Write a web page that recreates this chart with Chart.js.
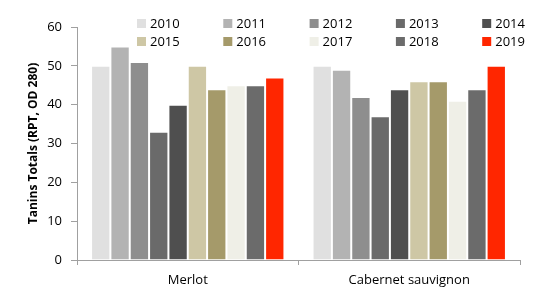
<!DOCTYPE html>
<html><head><meta charset="utf-8">
<script src="https://cdn.jsdelivr.net/npm/chart.js@4/dist/chart.umd.min.js"></script>
<style>html,body{margin:0;padding:0;background:#fff}#wrap{width:560px;height:302px}</style>
</head><body><div id="wrap"><canvas id="c"></canvas></div>
<script>
const categories = ["Merlot", "Cabernet sauvignon"];
const years = ["2010","2011","2012","2013","2014","2015","2016","2017","2018","2019"];
const merlot = [50, 55, 51, 33, 40, 50, 44, 45, 45, 47];
const cabernet = [50, 49, 42, 37, 44, 46, 46, 41, 44, 50];
const colors = ["#e0e0e0","#b3b3b3","#8e8e8e","#6a6a6a","#4f4f4f","#cec7a5","#a59a6a","#efefe7","#6b6b6b","#ff2600"];
const yTicks = [0, 10, 20, 30, 40, 50, 60];
const yTitle = "Tanins Totals (RPT, OD 280)";

const FONT = "'Open Sans', sans-serif";
const datasets = years.map((y, i) => ({
  label: y,
  data: [merlot[i], cabernet[i]],
  backgroundColor: colors[i],
  borderColor: 'rgba(255,255,255,0.35)',
  borderWidth: 1,
  barPercentage: 1,
  categoryPercentage: 0.873
}));

const legendPlugin = {
  id: 'gridLegend',
  afterDraw(chart) {
    const ctx = chart.ctx;
    ctx.save();
    ctx.font = "13px " + FONT;
    ctx.textBaseline = 'middle';
    ctx.fillStyle = '#000';
    chart.data.datasets.forEach((ds, i) => {
      const col = i % 5, row = Math.floor(i / 5);
      const x = 137 + col * 86.3;
      const y = 23 + row * 18;
      ctx.fillStyle = ds.backgroundColor;
      ctx.fillRect(x, y - 4, 9, 9);
      ctx.fillStyle = '#000';
      ctx.fillText(ds.label, x + 13, y + 1);
    });
    ctx.restore();
  }
};

new Chart(document.getElementById('c'), {
  type: 'bar',
  data: { labels: categories, datasets },
  options: {
    responsive: true,
    maintainAspectRatio: false,
    animation: false,
    layout: { padding: { left: 0, right: 40, top: 27, bottom: 0 } },
    plugins: { legend: { display: false }, tooltip: { enabled: false } },
    scales: {
      x: {
        grid: { display: true, offset: true, drawOnChartArea: false, drawTicks: true, tickLength: 5, color: '#a0a0a0' },
        border: { color: '#a0a0a0', width: 1 },
        ticks: { color: '#000', font: { family: FONT, size: 13 }, padding: 7 },
        afterFit(a) { a.height = 42; }
      },
      y: {
        min: 0, max: 60,
        afterBuildTicks(a) { a.ticks = yTicks.map(v => ({ value: v })); },
        grid: { display: true, drawOnChartArea: false, drawTicks: true, tickLength: 6, color: '#a0a0a0' },
        border: { color: '#a0a0a0', width: 1 },
        ticks: { color: '#000', font: { family: FONT, size: 13 }, padding: 9 },
        title: { display: true, text: yTitle, color: '#000', font: { family: FONT, size: 12, weight: 'bold' }, padding: { top: 26, bottom: 0 } },
        afterFit(a) { a.width = 77; }
      }
    }
  },
  plugins: [legendPlugin]
});
</script>
</body></html>
